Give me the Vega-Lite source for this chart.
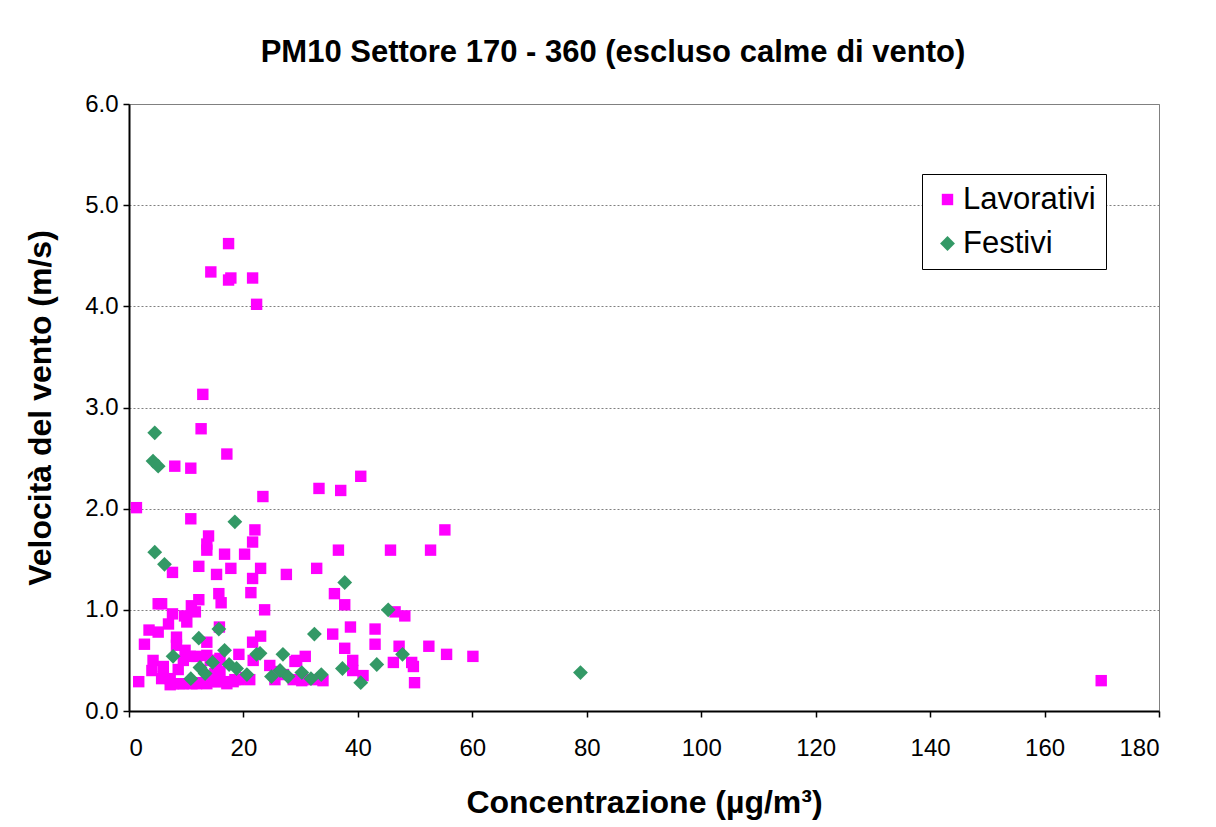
{
  "$schema": "https://vega.github.io/schema/vega-lite/v6.json",
  "autosize": "none",
  "width": 1030,
  "height": 607,
  "padding": {"left": 129, "top": 104, "right": 57, "bottom": 116},
  "background": "white",
  "title": {
    "text": "PM10 Settore 170 - 360 (escluso calme di vento)",
    "font": "Liberation Sans",
    "fontSize": 31,
    "fontWeight": "bold",
    "color": "black",
    "anchor": "middle",
    "offset": 23,
    "dx": -31
  },
  "data": {
    "values": [
      {"c": 17.4, "v": 4.62, "tipo": "Lavorativi"},
      {"c": 14.3, "v": 4.34, "tipo": "Lavorativi"},
      {"c": 17.8, "v": 4.28, "tipo": "Lavorativi"},
      {"c": 17.4, "v": 4.26, "tipo": "Lavorativi"},
      {"c": 21.6, "v": 4.28, "tipo": "Lavorativi"},
      {"c": 22.3, "v": 4.02, "tipo": "Lavorativi"},
      {"c": 12.9, "v": 3.13, "tipo": "Lavorativi"},
      {"c": 12.6, "v": 2.79, "tipo": "Lavorativi"},
      {"c": 17.1, "v": 2.54, "tipo": "Lavorativi"},
      {"c": 8.0, "v": 2.42, "tipo": "Lavorativi"},
      {"c": 10.8, "v": 2.40, "tipo": "Lavorativi"},
      {"c": 40.5, "v": 2.32, "tipo": "Lavorativi"},
      {"c": 23.4, "v": 2.12, "tipo": "Lavorativi"},
      {"c": 33.2, "v": 2.20, "tipo": "Lavorativi"},
      {"c": 37.0, "v": 2.18, "tipo": "Lavorativi"},
      {"c": 1.3, "v": 2.01, "tipo": "Lavorativi"},
      {"c": 10.8, "v": 1.90, "tipo": "Lavorativi"},
      {"c": 22.0, "v": 1.79, "tipo": "Lavorativi"},
      {"c": 55.2, "v": 1.79, "tipo": "Lavorativi"},
      {"c": 13.9, "v": 1.73, "tipo": "Lavorativi"},
      {"c": 13.6, "v": 1.65, "tipo": "Lavorativi"},
      {"c": 13.6, "v": 1.59, "tipo": "Lavorativi"},
      {"c": 21.6, "v": 1.67, "tipo": "Lavorativi"},
      {"c": 16.7, "v": 1.55, "tipo": "Lavorativi"},
      {"c": 20.2, "v": 1.55, "tipo": "Lavorativi"},
      {"c": 36.6, "v": 1.59, "tipo": "Lavorativi"},
      {"c": 45.7, "v": 1.59, "tipo": "Lavorativi"},
      {"c": 52.7, "v": 1.59, "tipo": "Lavorativi"},
      {"c": 12.2, "v": 1.43, "tipo": "Lavorativi"},
      {"c": 17.8, "v": 1.41, "tipo": "Lavorativi"},
      {"c": 23.0, "v": 1.41, "tipo": "Lavorativi"},
      {"c": 32.8, "v": 1.41, "tipo": "Lavorativi"},
      {"c": 7.6, "v": 1.37, "tipo": "Lavorativi"},
      {"c": 15.3, "v": 1.35, "tipo": "Lavorativi"},
      {"c": 21.6, "v": 1.31, "tipo": "Lavorativi"},
      {"c": 27.5, "v": 1.35, "tipo": "Lavorativi"},
      {"c": 21.3, "v": 1.17, "tipo": "Lavorativi"},
      {"c": 15.7, "v": 1.16, "tipo": "Lavorativi"},
      {"c": 35.9, "v": 1.16, "tipo": "Lavorativi"},
      {"c": 16.1, "v": 1.07, "tipo": "Lavorativi"},
      {"c": 12.2, "v": 1.10, "tipo": "Lavorativi"},
      {"c": 5.1, "v": 1.06, "tipo": "Lavorativi"},
      {"c": 5.7, "v": 1.06, "tipo": "Lavorativi"},
      {"c": 10.9, "v": 1.04, "tipo": "Lavorativi"},
      {"c": 37.7, "v": 1.05, "tipo": "Lavorativi"},
      {"c": 23.7, "v": 1.00, "tipo": "Lavorativi"},
      {"c": 11.6, "v": 0.98, "tipo": "Lavorativi"},
      {"c": 46.5, "v": 0.98, "tipo": "Lavorativi"},
      {"c": 48.2, "v": 0.94, "tipo": "Lavorativi"},
      {"c": 7.6, "v": 0.96, "tipo": "Lavorativi"},
      {"c": 9.7, "v": 0.94, "tipo": "Lavorativi"},
      {"c": 10.1, "v": 0.88, "tipo": "Lavorativi"},
      {"c": 6.9, "v": 0.86, "tipo": "Lavorativi"},
      {"c": 3.5, "v": 0.80, "tipo": "Lavorativi"},
      {"c": 5.1, "v": 0.78, "tipo": "Lavorativi"},
      {"c": 15.8, "v": 0.83, "tipo": "Lavorativi"},
      {"c": 38.7, "v": 0.83, "tipo": "Lavorativi"},
      {"c": 43.0, "v": 0.81, "tipo": "Lavorativi"},
      {"c": 2.7, "v": 0.66, "tipo": "Lavorativi"},
      {"c": 8.3, "v": 0.73, "tipo": "Lavorativi"},
      {"c": 8.3, "v": 0.65, "tipo": "Lavorativi"},
      {"c": 13.6, "v": 0.68, "tipo": "Lavorativi"},
      {"c": 23.0, "v": 0.74, "tipo": "Lavorativi"},
      {"c": 21.6, "v": 0.68, "tipo": "Lavorativi"},
      {"c": 35.6, "v": 0.76, "tipo": "Lavorativi"},
      {"c": 43.0, "v": 0.66, "tipo": "Lavorativi"},
      {"c": 37.7, "v": 0.62, "tipo": "Lavorativi"},
      {"c": 47.2, "v": 0.64, "tipo": "Lavorativi"},
      {"c": 52.4, "v": 0.64, "tipo": "Lavorativi"},
      {"c": 55.5, "v": 0.56, "tipo": "Lavorativi"},
      {"c": 60.1, "v": 0.54, "tipo": "Lavorativi"},
      {"c": 30.8, "v": 0.54, "tipo": "Lavorativi"},
      {"c": 9.8, "v": 0.60, "tipo": "Lavorativi"},
      {"c": 19.2, "v": 0.56, "tipo": "Lavorativi"},
      {"c": 39.1, "v": 0.50, "tipo": "Lavorativi"},
      {"c": 39.1, "v": 0.40, "tipo": "Lavorativi"},
      {"c": 46.2, "v": 0.48, "tipo": "Lavorativi"},
      {"c": 49.4, "v": 0.48, "tipo": "Lavorativi"},
      {"c": 49.7, "v": 0.44, "tipo": "Lavorativi"},
      {"c": 40.9, "v": 0.35, "tipo": "Lavorativi"},
      {"c": 49.9, "v": 0.28, "tipo": "Lavorativi"},
      {"c": 33.9, "v": 0.30, "tipo": "Lavorativi"},
      {"c": 30.2, "v": 0.30, "tipo": "Lavorativi"},
      {"c": 169.9, "v": 0.30, "tipo": "Lavorativi"},
      {"c": 29.3, "v": 0.50, "tipo": "Lavorativi"},
      {"c": 4.2, "v": 0.50, "tipo": "Lavorativi"},
      {"c": 4.0, "v": 0.40, "tipo": "Lavorativi"},
      {"c": 9.5, "v": 0.50, "tipo": "Lavorativi"},
      {"c": 10.7, "v": 0.54, "tipo": "Lavorativi"},
      {"c": 11.8, "v": 0.54, "tipo": "Lavorativi"},
      {"c": 13.6, "v": 0.55, "tipo": "Lavorativi"},
      {"c": 15.3, "v": 0.50, "tipo": "Lavorativi"},
      {"c": 1.7, "v": 0.29, "tipo": "Lavorativi"},
      {"c": 5.7, "v": 0.32, "tipo": "Lavorativi"},
      {"c": 6.0, "v": 0.44, "tipo": "Lavorativi"},
      {"c": 7.2, "v": 0.26, "tipo": "Lavorativi"},
      {"c": 7.7, "v": 0.27, "tipo": "Lavorativi"},
      {"c": 8.6, "v": 0.41, "tipo": "Lavorativi"},
      {"c": 8.9, "v": 0.27, "tipo": "Lavorativi"},
      {"c": 9.5, "v": 0.27, "tipo": "Lavorativi"},
      {"c": 11.0, "v": 0.27, "tipo": "Lavorativi"},
      {"c": 13.6, "v": 0.27, "tipo": "Lavorativi"},
      {"c": 14.5, "v": 0.29, "tipo": "Lavorativi"},
      {"c": 15.0, "v": 0.37, "tipo": "Lavorativi"},
      {"c": 15.6, "v": 0.29, "tipo": "Lavorativi"},
      {"c": 15.9, "v": 0.39, "tipo": "Lavorativi"},
      {"c": 16.5, "v": 0.29, "tipo": "Lavorativi"},
      {"c": 17.1, "v": 0.27, "tipo": "Lavorativi"},
      {"c": 18.2, "v": 0.29, "tipo": "Lavorativi"},
      {"c": 19.1, "v": 0.31, "tipo": "Lavorativi"},
      {"c": 21.1, "v": 0.31, "tipo": "Lavorativi"},
      {"c": 21.7, "v": 0.50, "tipo": "Lavorativi"},
      {"c": 24.6, "v": 0.45, "tipo": "Lavorativi"},
      {"c": 25.8, "v": 0.39, "tipo": "Lavorativi"},
      {"c": 27.0, "v": 0.36, "tipo": "Lavorativi"},
      {"c": 25.5, "v": 0.31, "tipo": "Lavorativi"},
      {"c": 28.7, "v": 0.31, "tipo": "Lavorativi"},
      {"c": 29.0, "v": 0.49, "tipo": "Lavorativi"},
      {"c": 32.8, "v": 0.31, "tipo": "Lavorativi"},
      {"c": 30.8, "v": 0.31, "tipo": "Lavorativi"},
      {"c": 14.2, "v": 0.50, "tipo": "Lavorativi"},
      {"c": 15.9, "v": 0.52, "tipo": "Lavorativi"},
      {"c": 6.0, "v": 0.34, "tipo": "Lavorativi"},
      {"c": 7.2, "v": 0.32, "tipo": "Lavorativi"},
      {"c": 11.8, "v": 0.27, "tipo": "Lavorativi"},
      {"c": 12.6, "v": 0.28, "tipo": "Lavorativi"},
      {"c": 18.5, "v": 0.31, "tipo": "Lavorativi"},
      {"c": 20.3, "v": 0.33, "tipo": "Lavorativi"},
      {"c": 4.5, "v": 2.75, "tipo": "Festivi"},
      {"c": 4.2, "v": 2.47, "tipo": "Festivi"},
      {"c": 5.1, "v": 2.42, "tipo": "Festivi"},
      {"c": 18.5, "v": 1.87, "tipo": "Festivi"},
      {"c": 4.5, "v": 1.57, "tipo": "Festivi"},
      {"c": 6.2, "v": 1.45, "tipo": "Festivi"},
      {"c": 37.7, "v": 1.27, "tipo": "Festivi"},
      {"c": 45.3, "v": 1.00, "tipo": "Festivi"},
      {"c": 15.7, "v": 0.81, "tipo": "Festivi"},
      {"c": 12.2, "v": 0.72, "tipo": "Festivi"},
      {"c": 32.4, "v": 0.76, "tipo": "Festivi"},
      {"c": 16.7, "v": 0.60, "tipo": "Festivi"},
      {"c": 7.7, "v": 0.54, "tipo": "Festivi"},
      {"c": 22.3, "v": 0.56, "tipo": "Festivi"},
      {"c": 22.9, "v": 0.57, "tipo": "Festivi"},
      {"c": 26.9, "v": 0.56, "tipo": "Festivi"},
      {"c": 47.8, "v": 0.56, "tipo": "Festivi"},
      {"c": 43.3, "v": 0.46, "tipo": "Festivi"},
      {"c": 37.3, "v": 0.42, "tipo": "Festivi"},
      {"c": 40.5, "v": 0.28, "tipo": "Festivi"},
      {"c": 30.2, "v": 0.38, "tipo": "Festivi"},
      {"c": 31.8, "v": 0.32, "tipo": "Festivi"},
      {"c": 33.6, "v": 0.36, "tipo": "Festivi"},
      {"c": 78.9, "v": 0.38, "tipo": "Festivi"},
      {"c": 14.6, "v": 0.48, "tipo": "Festivi"},
      {"c": 17.5, "v": 0.46, "tipo": "Festivi"},
      {"c": 12.4, "v": 0.43, "tipo": "Festivi"},
      {"c": 13.3, "v": 0.37, "tipo": "Festivi"},
      {"c": 10.8, "v": 0.32, "tipo": "Festivi"},
      {"c": 18.8, "v": 0.42, "tipo": "Festivi"},
      {"c": 20.6, "v": 0.36, "tipo": "Festivi"},
      {"c": 24.9, "v": 0.34, "tipo": "Festivi"},
      {"c": 26.4, "v": 0.40, "tipo": "Festivi"},
      {"c": 27.8, "v": 0.34, "tipo": "Festivi"}
    ]
  },
  "mark": {"type": "point", "filled": true, "opacity": 1},
  "encoding": {
    "x": {
      "field": "c",
      "type": "quantitative",
      "scale": {"domain": [0, 180], "nice": false, "zero": true},
      "axis": {
        "title": "Concentrazione (µg/m³)",
        "values": [0, 20, 40, 60, 80, 100, 120, 140, 160, 180],
        "grid": false,
        "titleY": 91,
        "titleBaseline": "middle"
      }
    },
    "y": {
      "field": "v",
      "type": "quantitative",
      "scale": {"domain": [0, 6], "nice": false},
      "axis": {
        "title": "Velocità del vento (m/s)",
        "values": [0, 1, 2, 3, 4, 5, 6],
        "format": ".1f",
        "grid": true,
        "gridColor": "#808080",
        "gridDash": [2, 2],
        "gridWidth": 1,
        "titleX": -89,
        "titleY": 303.5,
        "titleAngle": -90,
        "titleAlign": "center",
        "titleBaseline": "middle",
        "labelPadding": 5
      }
    },
    "color": {
      "field": "tipo",
      "type": "nominal",
      "scale": {"domain": ["Lavorativi", "Festivi"], "range": ["#FF00FF", "#339966"]},
      "legend": {"title": null, "orient": "none", "legendX": 793, "legendY": 70}
    },
    "shape": {
      "field": "tipo",
      "type": "nominal",
      "scale": {"domain": ["Lavorativi", "Festivi"], "range": ["square", "diamond"]},
      "legend": {"title": null, "orient": "none", "legendX": 793, "legendY": 70}
    },
    "size": {
      "field": "tipo",
      "type": "nominal",
      "scale": {"domain": ["Lavorativi", "Festivi"], "range": [130, 220]},
      "legend": {"title": null, "orient": "none", "legendX": 793, "legendY": 70}
    }
  },
  "config": {
    "font": "Liberation Sans",
    "view": {"stroke": "#808080", "strokeWidth": 1},
    "axis": {
      "domainColor": "black",
      "domainWidth": 2,
      "tickColor": "black",
      "tickWidth": 1.5,
      "tickSize": 6,
      "labelFont": "Liberation Sans",
      "labelFontSize": 24,
      "labelColor": "black",
      "titleFont": "Liberation Sans",
      "titleFontSize": 32,
      "titleFontWeight": "bold",
      "titleColor": "black"
    },
    "axisX": {"labelPadding": 19},
    "legend": {
      "strokeColor": "black",
      "fillColor": "white",
      "padding": 10,
      "labelFont": "Liberation Sans",
      "labelFontSize": 31,
      "labelColor": "black",
      "labelOffset": 0,
      "rowPadding": 12,
      "symbolStrokeWidth": 0
    }
  }
}
